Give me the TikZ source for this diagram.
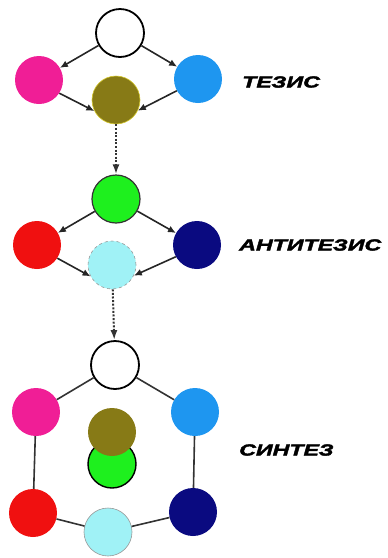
\documentclass[tikz,border=0pt]{standalone}
\usepackage{fontspec}
\usepackage{xcolor}
\usetikzlibrary{arrows.meta,positioning}
\newfontfamily\stagefont[FakeStretch=1.45,FakeBold=2.5]{Liberation Sans}
\definecolor{cMagenta}{RGB}{240,30,150}
\definecolor{cSky}{RGB}{30,150,240}
\definecolor{cOlive}{RGB}{135,122,22}
\definecolor{cLime}{RGB}{30,240,30}
\definecolor{cRed}{RGB}{240,16,16}
\definecolor{cNavy}{RGB}{10,10,128}
\definecolor{cAqua}{RGB}{160,242,246}

\begin{document}
\begin{tikzpicture}[
  x=1pt, y=-1pt,
  ball/.style={circle, minimum size=48pt, inner sep=0pt},
  hollow/.style={ball, draw=black, line width=1.8pt, fill=white},
  arr/.style={-{Latex[length=8pt,width=7pt]}, line width=1.6pt, black!85},
  link/.style={line width=1.6pt, black!80},
  flow/.style={-{Latex[length=10pt,width=7pt]}, line width=2pt, black!80, dash pattern=on 2pt off 1.6pt},
  stage/.style={anchor=west, inner sep=0pt, font=\stagefont\fontsize{16}{19}\selectfont\bfseries\itshape}
]
\useasboundingbox (0,0) rectangle (388,558);

% thesis
\node[hollow] (wht1) at (120,33) {};
\node[ball, fill=cMagenta] (mag1) at (39,80) {};
\node[ball, fill=cSky] (sky1) at (198,79) {};
\node[ball, fill=cOlive, draw=yellow!60!cOlive, line width=0.6pt] (olv1) at (116,100) {};
\draw[arr] (wht1) -- (mag1);
\draw[arr] (wht1) -- (sky1);
\draw[arr] (mag1.-33) -- (olv1.207);
\draw[arr] (sky1.209) -- (olv1.334);
\node[stage] (tez) at (242,82) {ТЕЗИС};

% antithesis
\node[ball, fill=cLime, draw=black!80, line width=1.2pt] (grn2) at (116,199) {};
\node[ball, fill=cRed] (red2) at (37,245) {};
\node[ball, fill=cNavy] (nvy2) at (197,245) {};
\node[ball, fill=cAqua, draw=black!40, dashed, line width=0.6pt] (aqu2) at (112,265) {};
\draw[flow] (olv1) -- (grn2);
\draw[arr] (grn2) -- (red2);
\draw[arr] (grn2) -- (nvy2);
\draw[arr] (red2.-33) -- (aqu2.208);
\draw[arr] (nvy2.209) -- (aqu2.334);
\node[stage] (anti) at (239,245) {АНТИТЕЗИС};

% synthesis
\node[hollow] (wht3) at (115,365) {};
\node[ball, fill=cMagenta] (mag3) at (36,412) {};
\node[ball, fill=cSky] (sky3) at (195,412) {};
\node[ball, fill=cRed] (red3) at (33,513) {};
\node[ball, fill=cNavy] (nvy3) at (193,512) {};
\node[ball, fill=cAqua, draw=black!40, line width=0.6pt] (aqu3) at (108,532) {};
\node[ball, fill=cLime, draw=black, line width=1.4pt] (grn3) at (112,464) {};
\node[ball, fill=cOlive] (olv3) at (112,432) {};
\draw[flow] (aqu2) -- (wht3);
\draw[link] (wht3) -- (mag3);
\draw[link] (wht3) -- (sky3);
\draw[link] (mag3) -- (red3);
\draw[link] (sky3) -- (nvy3);
\draw[link] (red3) -- (aqu3);
\draw[link] (nvy3) -- (aqu3);
\node[stage] (syn) at (239,450) {СИНТЕЗ};
\end{tikzpicture}
\end{document}
